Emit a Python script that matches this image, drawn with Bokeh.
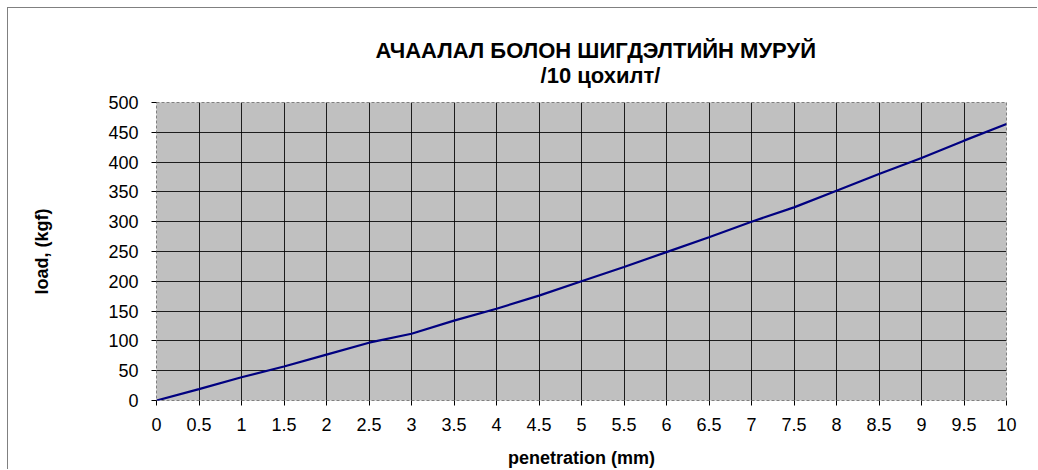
from bokeh.plotting import figure
from bokeh.models import FixedTicker, Title, LinearAxis
from bokeh.embed import file_html
from bokeh.resources import INLINE

# Data
penetration = [0, 0.5, 1, 1.5, 2, 2.5, 3, 3.5, 4, 4.5, 5, 5.5, 6, 6.5, 7, 7.5, 8, 8.5, 9, 9.5, 10]
load = [0, 19, 39, 57, 77, 97, 112, 134, 154, 176, 200, 224, 249, 274, 300, 324, 352, 380, 407, 436, 464]

x_ticks = [0, 0.5, 1, 1.5, 2, 2.5, 3, 3.5, 4, 4.5, 5, 5.5, 6, 6.5, 7, 7.5, 8, 8.5, 9, 9.5, 10]
y_ticks = [0, 50, 100, 150, 200, 250, 300, 350, 400, 450, 500]

title_line1 = "АЧААЛАЛ БОЛОН ШИГДЭЛТИЙН МУРУЙ"
title_line2 = "/10 цохилт/"
x_label = "penetration (mm)"
y_label = "load, (kgf)"

FONT = "Liberation Sans"
INDENT = "\u00a0" * 27   # centres the second title line under the first

p = figure(width=1030, height=462, output_backend="svg", toolbar_location=None,
           x_range=(0, 10), y_range=(0, 500),
           min_border_left=148, min_border_right=32, min_border_top=94, min_border_bottom=70)

# empty spacer above the frame (no ticks, no labels) to lift the title block
spacer = LinearAxis(ticker=FixedTicker(ticks=[]), axis_line_color=None,
                    major_tick_line_color=None, minor_tick_line_color=None,
                    major_tick_out=14, major_tick_in=0, minor_tick_out=0, minor_tick_in=0,
                    major_label_standoff=0)
p.add_layout(spacer, "above")

p.title = Title(text=title_line1 + "\n" + INDENT + title_line2, align="left", offset=219,
                text_font=FONT, text_font_size="22px", text_font_style="bold",
                text_color="black", standoff=30)

p.background_fill_color = "#C0C0C0"
p.border_fill_color = "white"
p.outline_line_color = "#808080"
p.outline_line_dash = "3 2"
p.outline_line_width = 1

p.line(penetration, load, line_color="#000080", line_width=2.2)

xa = p.below[0]
ya = p.left[0]
xa.ticker = FixedTicker(ticks=x_ticks)
ya.ticker = FixedTicker(ticks=y_ticks)
p.xgrid.ticker = FixedTicker(ticks=x_ticks[1:-1])
p.ygrid.ticker = FixedTicker(ticks=y_ticks[1:-1])
p.xgrid.grid_line_color = "black"
p.ygrid.grid_line_color = "black"
p.xgrid.grid_line_alpha = 0.85
p.ygrid.grid_line_alpha = 0.85

for ax in (xa, ya):
    ax.axis_line_color = None
    ax.major_tick_line_color = "black"
    ax.major_tick_out = 5
    ax.major_tick_in = 0
    ax.minor_tick_line_color = None
    ax.major_label_text_font = FONT
    ax.major_label_text_font_size = "18px"
    ax.major_label_text_color = "black"
    ax.axis_label_text_font = FONT
    ax.axis_label_text_font_size = "18px"
    ax.axis_label_text_font_style = "bold"
    ax.axis_label_text_color = "black"

xa.axis_label = x_label
ya.axis_label = y_label
xa.major_label_standoff = 12
ya.major_label_standoff = 13
xa.axis_label_standoff = 14
ya.axis_label_standoff = 53

# outer chart-area border (only top and left edges are visible in the reference)
p.styles = {"margin-top": "7px", "margin-left": "7px",
            "border-top": "1px solid #808080", "border-left": "1px solid #808080"}

open("out.html", "w").write(file_html(p, INLINE))
